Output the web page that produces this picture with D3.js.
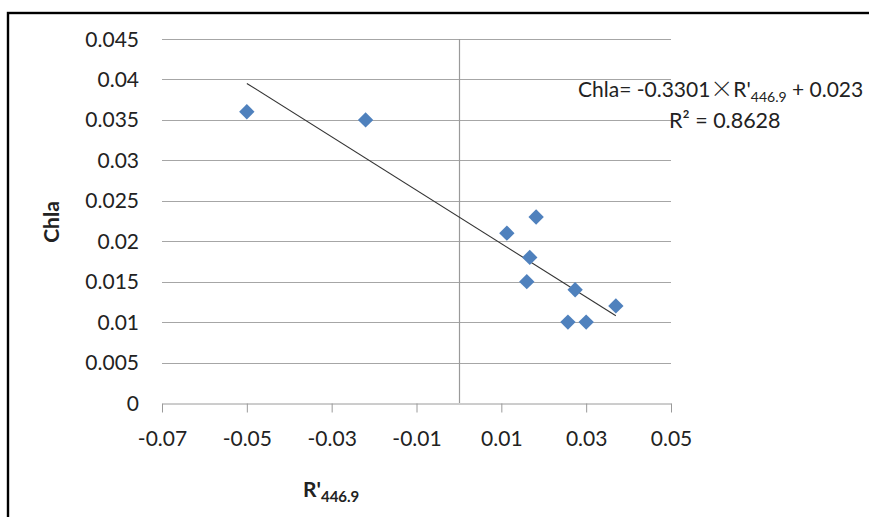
<!DOCTYPE html>
<html>
<head>
<meta charset="utf-8">
<script src="https://cdn.jsdelivr.net/npm/d3@7"></script>
<style>
  html, body { margin: 0; padding: 0; background: #fff; }
  svg { display: block; }
  text { font-family: Lato, "Open Sans", "DejaVu Sans", sans-serif; fill: #222; }
</style>
</head>
<body>
<svg id="chart" width="869" height="517"></svg>
<script>
// ---- data ----
const xValues = [-0.050, -0.022, 0.0113, 0.0182, 0.0167, 0.0160, 0.0274, 0.0257, 0.0300, 0.0370];
const yValues = [0.036, 0.035, 0.021, 0.023, 0.018, 0.015, 0.014, 0.010, 0.010, 0.012];
const xTicks = [-0.07, -0.05, -0.03, -0.01, 0.01, 0.03, 0.05];
const yTicks = [0, 0.005, 0.01, 0.015, 0.02, 0.025, 0.03, 0.035, 0.04, 0.045];
const yTickLabels = ["0", "0.005", "0.01", "0.015", "0.02", "0.025", "0.03", "0.035", "0.04", "0.045"];
const xTickLabels = ["-0.07", "-0.05", "-0.03", "-0.01", "0.01", "0.03", "0.05"];
const trendSlope = -0.3301;
const trendIntercept = 0.023;
const rSquared = "0.8628";

// ---- layout ----
const svg = d3.select("#chart");
const plot = { left: 162, right: 671, top: 39, bottom: 403 };
const x = d3.scaleLinear().domain([-0.07, 0.05]).range([plot.left, plot.right]);
const y = d3.scaleLinear().domain([0, 0.045]).range([plot.bottom, plot.top]);

// outer frame
svg.append("rect")
  .attr("x", 8).attr("y", 13)
  .attr("width", 900).attr("height", 600)
  .attr("fill", "none").attr("stroke", "#000").attr("stroke-width", 2.4);

// gridlines
svg.append("g").selectAll("line").data(yTicks.filter(d => d > 0)).join("line")
  .attr("x1", plot.left).attr("x2", plot.right)
  .attr("y1", d => Math.round(y(d)) + 0.5).attr("y2", d => Math.round(y(d)) + 0.5)
  .attr("stroke", "#a6a6a6").attr("stroke-width", 1);

// y tick labels (low position)
svg.append("g").selectAll("text").data(yTicks).join("text")
  .attr("x", 139).attr("y", d => y(d))
  .attr("dy", "0.36em")
  .attr("text-anchor", "end")
  .attr("font-size", 21)
  .text((d, i) => yTickLabels[i]);

// x axis at y = 0
const xAxis = d3.axisBottom(x).tickValues(xTicks).tickSize(9).tickSizeOuter(0).tickFormat((d, i) => xTickLabels[i]);
const gx = svg.append("g")
  .attr("transform", `translate(0,${Math.round(y(0)) + 0.5})`)
  .call(xAxis);
gx.select(".domain").attr("stroke", "#9a9a9a");
gx.selectAll(".tick line").attr("stroke", "#9a9a9a");
gx.selectAll(".tick text").attr("font-size", 21).attr("fill", "#222")
  .attr("font-family", "Lato, 'Open Sans', sans-serif").attr("dy", "1.45em");

// vertical axis at x = 0
svg.append("line")
  .attr("x1", Math.round(x(0)) + 0.5).attr("x2", Math.round(x(0)) + 0.5)
  .attr("y1", plot.top).attr("y2", plot.bottom)
  .attr("stroke", "#9a9a9a").attr("stroke-width", 1.2);

// trendline
const xExt = d3.extent(xValues);
svg.append("line")
  .attr("x1", x(xExt[0])).attr("y1", y(trendSlope * xExt[0] + trendIntercept))
  .attr("x2", x(xExt[1])).attr("y2", y(trendSlope * xExt[1] + trendIntercept))
  .attr("stroke", "#333").attr("stroke-width", 1.1);

// markers
const sym = d3.symbol().type(d3.symbolSquare).size(118);
svg.append("g").selectAll("path").data(xValues.map((v, i) => [v, yValues[i]])).join("path")
  .attr("d", sym)
  .attr("transform", d => `translate(${x(d[0])},${y(d[1])}) rotate(45)`)
  .attr("fill", "#4f81bd");

// y axis title
svg.append("text")
  .attr("transform", "translate(59,222) rotate(-90)")
  .attr("text-anchor", "middle")
  .attr("font-size", 21).attr("font-weight", "bold")
  .text("Chla");

// x axis title
const xt = svg.append("text")
  .attr("x", 303).attr("y", 497)
  .attr("font-size", 21).attr("font-weight", "bold");
xt.append("tspan").text("R'");
xt.append("tspan").attr("font-size", 15).attr("dy", 5).text("446.9");

// equation
const eq = svg.append("text").attr("x", 578).attr("y", 97).attr("font-size", 21);
eq.append("tspan").text("Chla= -0.3301");
eq.append("tspan").attr("font-family", "'Noto Sans CJK SC', sans-serif").attr("font-weight", 300).attr("font-size", 23).text("×");
eq.append("tspan").text("R'");
eq.append("tspan").attr("font-size", 14).attr("dy", 5).text("446.9");
eq.append("tspan").attr("dy", -5).text(" + 0.023");

svg.append("text").attr("x", 669).attr("y", 128).attr("font-size", 21.5)
  .text("R² = " + rSquared);
</script>
</body>
</html>
